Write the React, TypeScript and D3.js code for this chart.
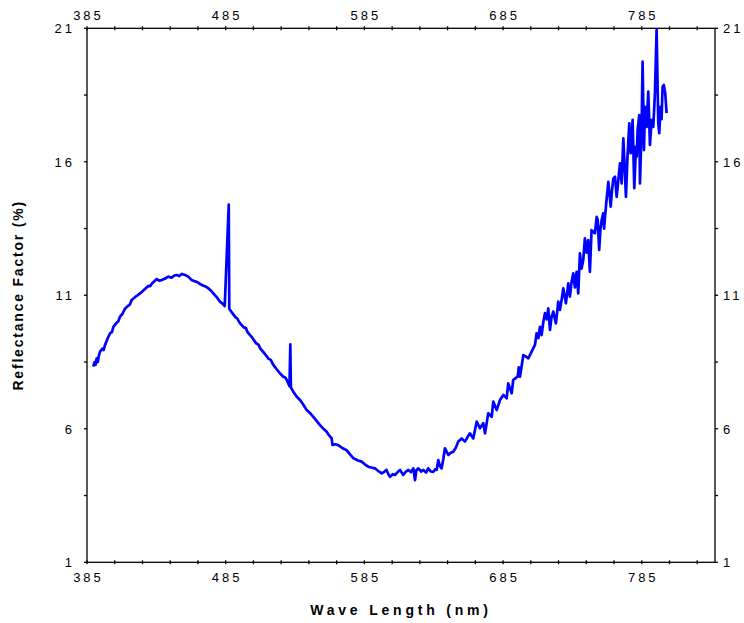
import React from "react";
import { scaleLinear, line, range } from "d3";

// spectrum (nm, %)
const wavelengths = [
  389.5, 390.5, 391.2, 392, 392.8, 393.6, 394.4, 396, 397, 398, 399.2, 400.4, 402, 403, 404, 406,
  407.5, 408.8, 410.5, 412.4, 414.5, 416, 417.2, 420, 421.5, 423.2, 426, 429.2, 430.5, 432, 435.3,
  437, 438.9, 441, 443.6, 446, 448, 449.7, 451.5, 453.3, 455.7, 458, 460.5, 463, 464.5, 466.5,
  469, 470.5, 472.5, 475, 477.3, 479, 480.9, 482.5, 484.3, 487.2, 487.6, 489.5, 491.7, 493.5,
  495, 498, 499.5, 501, 504, 507, 508.5, 510, 513, 516, 517.5, 519, 521.5, 524.1, 526.5, 528,
  529, 531, 531.6, 532, 533.7, 536, 538.6, 541, 543.4, 546, 548.2, 550.5, 553, 555.5, 557.8,
  559.6, 561.4, 562, 564, 566.2, 569, 572.2, 574.5, 577, 580, 583, 585.5, 587.8, 590, 592.6, 595,
  597.5, 599.5, 601, 602.3, 603.5, 605.5, 607, 609, 610.7, 612, 613, 615, 616.7, 618.5, 620.3,
  621.5, 622.5, 623.9, 626, 627.5, 629.5, 631, 633, 634.7, 636, 637.1, 638.3, 639.5, 640.7, 642,
  643.1, 645.5, 647.3, 649.1, 651, 652.7, 655.2, 657.5, 659.5, 661.1, 663.5, 666, 668.3, 670.7,
  672, 674.3, 676.8, 677.9, 680.4, 682.8, 685.2, 687.6, 688.7, 691.2, 692.3, 694, 695.5, 696.3,
  697.2, 699.6, 701.5, 703.2, 705.6, 708, 709.2, 710.5, 711.6, 712.8, 714, 715.2, 716.5, 717.6,
  718.8, 720, 721.2, 723.1, 724.8, 726, 727.2, 728.4, 730.3, 732, 733.2, 734.4, 735.6, 736.8, 738,
  739.2, 740.4, 741.6, 742.8, 744, 745.2, 746.4, 747.6, 748.8, 750, 751.2, 752.5, 753.2, 754.3,
  755.2, 756.1, 757.2, 757.8, 758.5, 759.7, 760.9, 762.6, 763.5, 764.5, 765.7, 766.9, 767.5, 768.1,
  769.3, 770.5, 771.7, 772.5, 773.6, 774.6, 776, 776.5, 777, 778.4, 779.6, 780.8, 781.4, 782,
  783.2, 783.7, 784.9, 785.6, 786.6, 787.3, 788.5, 789.7, 790.9, 792.1, 793.3, 794.5, 795.7,
  796.9, 797.6, 798.6, 799.3, 800, 800.9, 801.9, 802.9,
];

const reflectance = [
  8.33, 8.5, 8.4, 8.64, 8.5, 8.75, 8.89, 9.0, 8.95, 9.14, 9.3, 9.45, 9.6, 9.62, 9.82, 9.95,
  10.02, 10.2, 10.3, 10.5, 10.6, 10.66, 10.82, 10.95, 11.0, 11.07, 11.2, 11.35, 11.34, 11.45, 11.61,
  11.55, 11.57, 11.62, 11.7, 11.66, 11.74, 11.76, 11.72, 11.8, 11.76, 11.7, 11.57, 11.52, 11.5, 11.42,
  11.36, 11.33, 11.26, 11.14, 11.0, 10.9, 10.76, 10.7, 10.6, 14.4, 10.5, 10.35, 10.2, 10.12,
  9.98, 9.8, 9.78, 9.6, 9.42, 9.2, 9.16, 9.0, 8.82, 8.62, 8.58, 8.42, 8.25, 8.08, 7.95, 7.92,
  7.83, 7.6, 9.16, 7.55, 7.39, 7.22, 7.08, 6.9, 6.7, 6.58, 6.45, 6.3, 6.14, 6.0, 5.89,
  5.75, 5.64, 5.4, 5.42, 5.39, 5.28, 5.2, 5.05, 4.9, 4.82, 4.77, 4.66, 4.58, 4.55, 4.52, 4.42,
  4.33, 4.4, 4.46, 4.3, 4.2, 4.3, 4.27, 4.38, 4.46, 4.35, 4.27, 4.4, 4.46, 4.38, 4.52,
  4.08, 4.45, 4.52, 4.4, 4.46, 4.36, 4.52, 4.4, 4.39, 4.48, 4.46, 4.83, 4.6, 4.52, 4.9,
  5.27, 5.02, 5.1, 5.14, 5.3, 5.52, 5.64, 5.52, 5.7, 5.83, 5.64, 6.27, 6.02, 6.21,
  5.83, 6.58, 6.45, 7.02, 6.7, 7.08, 7.27, 7.14, 7.7, 7.33, 7.83, 7.9, 7.95, 8.3,
  7.95, 8.76, 8.7, 8.64, 8.89, 9.14, 9.58, 9.4, 9.82, 9.51, 10.0, 10.33, 10.1, 10.51,
  9.7, 10.2, 10.39, 9.95, 10.76, 10.45, 10.82, 11.26, 10.7, 11.45, 10.95, 11.5, 11.82, 11.3, 11.88,
  11.07, 12.57, 12.0, 12.32, 13.13, 12.6, 13.07, 11.88, 13.44, 13.38, 13.32, 13.94, 13.82, 12.7,
  13.5, 13.82, 14.07, 13.5, 13.94, 14.63, 15.25, 14.32, 14.9, 15.38, 15.44, 14.69, 15.0, 15.32,
  15.94, 15.19, 16.88, 16.0, 14.69, 16.07, 17.44, 16.6, 16.32, 17.57, 15.01, 16.57, 16.2, 17.19,
  17.75, 15.19, 17.31, 19.75, 16.44, 18.06, 17.31, 18.63, 16.63, 17.57, 17.31, 18.57, 20.94,
  17.44, 17.07, 18.06, 17.6, 18.81, 18.88, 18.57, 17.82,
];

const xTickValues = [385, 485, 585, 685, 785];
const yTickValues = [1, 6, 11, 16, 21];
const xMinorStep = 20;
const yMinorStep = 2.5;

const W = 744;
const H = 623;
const plot = { left: 87, right: 715, top: 28.3, bottom: 562.3 };

export default function App() {
  const x = scaleLinear().domain([385, 837.8]).range([plot.left, plot.right]);
  const y = scaleLinear().domain([1, 21]).range([plot.bottom, plot.top]);

  const points = wavelengths.map((w, i) => [w, reflectance[i]] as [number, number]);
  const path = line<[number, number]>()
    .x((d) => x(d[0]))
    .y((d) => y(d[1]))(points);

  const xMinor = range(385, 838, xMinorStep);
  const yMinor = range(1, 21.01, yMinorStep);

  const tickFont = {
    fontFamily: "Liberation Sans, Arial, sans-serif",
    fontSize: 13,
    letterSpacing: 3,
  };

  return (
    <svg
      width={W}
      height={H}
      style={{ position: "absolute", left: 0, top: 0, background: "#fff" }}
    >
      <rect x={0} y={0} width={W} height={H} fill="#fff" />
      <g stroke="#000" strokeWidth={1.3} fill="none">
        <rect
          x={plot.left}
          y={plot.top}
          width={plot.right - plot.left}
          height={plot.bottom - plot.top}
        />
        {xMinor.map((v) => (
          <g key={"xm" + v}>
            <line x1={x(v)} x2={x(v)} y1={plot.bottom - 2} y2={plot.bottom + 2} />
            <line x1={x(v)} x2={x(v)} y1={plot.top - 2} y2={plot.top + 2} />
          </g>
        ))}
        {yMinor.map((v) => (
          <g key={"ym" + v}>
            <line x1={plot.left - 3} x2={plot.left} y1={y(v)} y2={y(v)} />
            <line x1={plot.right} x2={plot.right + 3} y1={y(v)} y2={y(v)} />
          </g>
        ))}
      </g>

      <g style={tickFont} fill="#000">
        {xTickValues.map((v) => (
          <g key={"xt" + v}>
            <text x={x(v) + 1.5} y={plot.bottom + 20} textAnchor="middle">
              {v}
            </text>
            <text x={x(v) + 1.5} y={plot.top - 8} textAnchor="middle">
              {v}
            </text>
          </g>
        ))}
        {yTickValues.map((v) => (
          <g key={"yt" + v}>
            <text x={plot.left - 12} y={y(v) + 5} textAnchor="end">
              {v}
            </text>
            <text x={plot.right + 8} y={y(v) + 5} textAnchor="start">
              {v}
            </text>
          </g>
        ))}
      </g>

      <path d={path || ""} fill="none" stroke="#0000ff" strokeWidth={2.7} strokeLinejoin="round" />

      <text
        x={(plot.left + plot.right) / 2}
        y={615}
        textAnchor="middle"
        fontFamily="Liberation Sans, Arial, sans-serif"
        fontWeight="bold"
        fontSize={14}
        letterSpacing={3.8}
      >
        Wave Length (nm)
      </text>
      <text
        transform={`translate(23, ${(plot.top + plot.bottom) / 2}) rotate(-90)`}
        textAnchor="middle"
        fontFamily="Liberation Sans, Arial, sans-serif"
        fontWeight="bold"
        fontSize={14}
        letterSpacing={1.8}
      >
        Reflectance Factor (%)
      </text>
    </svg>
  );
}
